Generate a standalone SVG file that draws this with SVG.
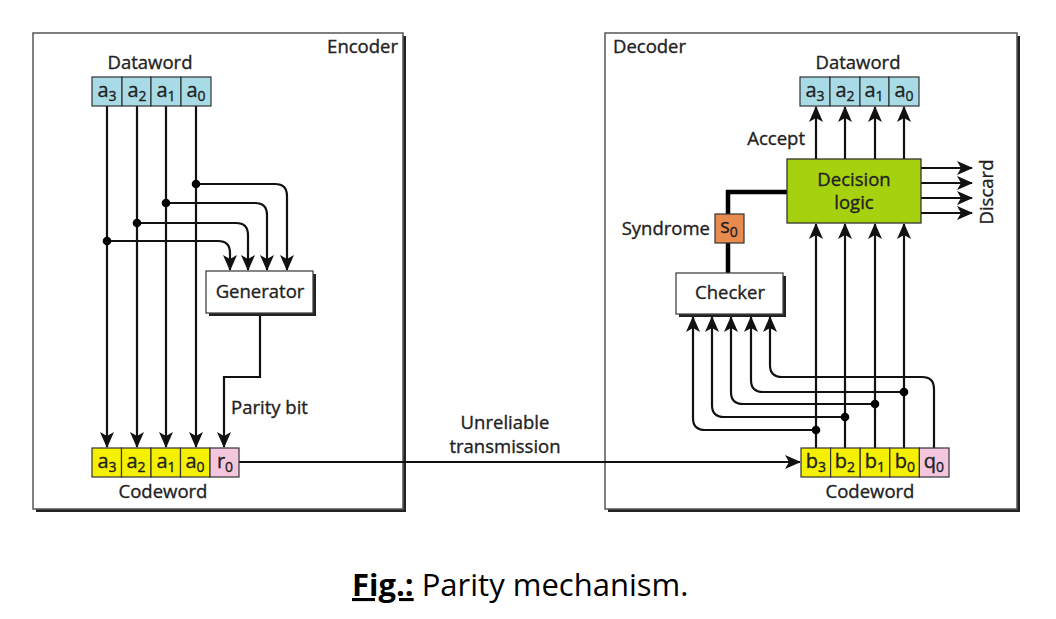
<svg xmlns="http://www.w3.org/2000/svg" width="1056" height="619" viewBox="0 0 1056 619">
<defs>
<marker id="ah" markerUnits="userSpaceOnUse" markerWidth="16" markerHeight="14" viewBox="0 0 16 14" refX="15" refY="7" orient="auto">
<path d="M0,0 L16,7 L0,14 L4,7 Z" fill="#111"/>
</marker>
<style>
.frame{fill:#fff;stroke:#555;stroke-width:1.5}
.shadow{fill:#222}
.box{fill:#fff;stroke:#444;stroke-width:1.3}
.t{font-family:"Open Sans","Noto Sans",sans-serif;font-size:18.5px;fill:#222;stroke:#222;stroke-width:0.35}
.c{font-family:"Open Sans","Noto Sans",sans-serif;font-size:18.5px;fill:#222;stroke:#222;stroke-width:0.35;text-anchor:middle}
.cell{font-family:"Open Sans","Noto Sans",sans-serif;font-size:20px;fill:#222;stroke:#222;stroke-width:0.35;text-anchor:middle}
.sub{font-size:14px}
.blue{fill:#a9dbe6;stroke:#333;stroke-width:1.2}
.yel{fill:#f4f000;stroke:#333;stroke-width:1.2}
.pink{fill:#f3c6de;stroke:#333;stroke-width:1.2}
.wa{fill:none;stroke:#111;stroke-width:2.2;marker-end:url(#ah)}
.thick{fill:none;stroke:#000;stroke-width:4.5}
.dot{fill:#000}
</style>
</defs>

<g id="encoder-frame">
<rect class="shadow" x="36" y="36" width="370" height="476"/>
<rect class="frame" x="33" y="33" width="370" height="476"/>
<text class="t" x="398" y="53" text-anchor="end">Encoder</text>
</g>

<g id="decoder-frame">
<rect class="shadow" x="608" y="36" width="412" height="476"/>
<rect class="frame" x="605" y="33" width="412" height="476"/>
<text class="t" x="613" y="53">Decoder</text>
</g>

<g id="connectors">
<path class="wa" d="M107,106 V447"/>
<path class="wa" d="M137,106 V447"/>
<path class="wa" d="M166,106 V447"/>
<path class="wa" d="M196,106 V447"/>
<path class="wa" d="M196,184 H275 Q287,184 287,196 V270"/>
<path class="wa" d="M166,203 H255 Q267,203 267,215 V270"/>
<path class="wa" d="M137,223 H236 Q248,223 248,235 V270"/>
<path class="wa" d="M107,241 H218 Q230,241 230,253 V270"/>
<circle class="dot" cx="196" cy="184" r="4.3"/>
<circle class="dot" cx="166" cy="203" r="4.3"/>
<circle class="dot" cx="137" cy="223" r="4.3"/>
<circle class="dot" cx="107" cy="241" r="4.3"/>
<path class="wa" d="M260,314 V377 H224 V447"/>
<path class="wa" d="M239,462 H800"/>
<path class="wa" d="M816,448 V224"/>
<path class="wa" d="M845,448 V224"/>
<path class="wa" d="M875,448 V224"/>
<path class="wa" d="M904,448 V224"/>
<path class="wa" d="M816,159 V107"/>
<path class="wa" d="M845,159 V107"/>
<path class="wa" d="M875,159 V107"/>
<path class="wa" d="M904,159 V107"/>
<path class="wa" d="M921,168 H972"/>
<path class="wa" d="M921,183 H972"/>
<path class="wa" d="M921,198 H972"/>
<path class="wa" d="M921,213 H972"/>
<path class="wa" d="M816,430 H705 Q693,430 693,418 V317"/>
<path class="wa" d="M845,417 H724 Q712,417 712,405 V317"/>
<path class="wa" d="M875,404 H743 Q731,404 731,392 V317"/>
<path class="wa" d="M904,392 H763 Q751,392 751,380 V317"/>
<path class="wa" d="M934,448 V389 Q934,377 922,377 H782 Q770,377 770,365 V317"/>
<circle class="dot" cx="816" cy="430" r="4.3"/>
<circle class="dot" cx="845" cy="417" r="4.3"/>
<circle class="dot" cx="875" cy="404" r="4.3"/>
<circle class="dot" cx="904" cy="392" r="4.3"/>
<path class="thick" d="M787,192 H728 V214"/>
<path class="thick" d="M728,243 V273"/>
</g>

<g id="enc-dataword">
<text class="c" x="150" y="69">Dataword</text>
<rect class="blue" x="92" y="77" width="30" height="29"/>
<rect class="blue" x="122" y="77" width="29" height="29"/>
<rect class="blue" x="151" y="77" width="30" height="29"/>
<rect class="blue" x="181" y="77" width="30" height="29"/>
<text class="cell" x="107" y="97">a<tspan class="sub" dy="4">3</tspan></text>
<text class="cell" x="137" y="97">a<tspan class="sub" dy="4">2</tspan></text>
<text class="cell" x="166" y="97">a<tspan class="sub" dy="4">1</tspan></text>
<text class="cell" x="196" y="97">a<tspan class="sub" dy="4">0</tspan></text>
</g>

<g id="generator">
<rect class="shadow" x="209" y="274" width="107" height="42"/>
<rect class="box" x="206" y="271" width="107" height="42"/>
<text class="c" x="260" y="298">Generator</text>
</g>

<g id="parity-label"><text class="t" x="231" y="414">Parity bit</text></g>

<g id="enc-codeword">
<rect class="yel" x="92" y="448" width="29.5" height="29"/>
<rect class="yel" x="121.5" y="448" width="29.5" height="29"/>
<rect class="yel" x="151" y="448" width="29.5" height="29"/>
<rect class="yel" x="180.5" y="448" width="29.5" height="29"/>
<rect class="pink" x="210" y="448" width="29" height="29"/>
<text class="cell" x="107" y="468">a<tspan class="sub" dy="4">3</tspan></text>
<text class="cell" x="136" y="468">a<tspan class="sub" dy="4">2</tspan></text>
<text class="cell" x="166" y="468">a<tspan class="sub" dy="4">1</tspan></text>
<text class="cell" x="195" y="468">a<tspan class="sub" dy="4">0</tspan></text>
<text class="cell" x="225" y="468">r<tspan class="sub" dy="4">0</tspan></text>
<text class="c" x="163" y="498">Codeword</text>
</g>

<g id="transmission-label">
<text class="c" x="505" y="429">Unreliable</text>
<text class="c" x="505" y="453">transmission</text>
</g>

<g id="dec-dataword">
<text class="c" x="858" y="69">Dataword</text>
<rect class="blue" x="800" y="77" width="30" height="29"/>
<rect class="blue" x="830" y="77" width="30" height="29"/>
<rect class="blue" x="860" y="77" width="29" height="29"/>
<rect class="blue" x="889" y="77" width="30" height="29"/>
<text class="cell" x="815" y="97">a<tspan class="sub" dy="4">3</tspan></text>
<text class="cell" x="845" y="97">a<tspan class="sub" dy="4">2</tspan></text>
<text class="cell" x="874" y="97">a<tspan class="sub" dy="4">1</tspan></text>
<text class="cell" x="904" y="97">a<tspan class="sub" dy="4">0</tspan></text>
</g>

<g id="accept-label"><text class="t" x="805" y="145" text-anchor="end">Accept</text></g>

<g id="decision-logic">
<rect x="787" y="159" width="134" height="64" fill="#a6d10e" stroke="#333" stroke-width="1.3"/>
<text class="c" x="854" y="186">Decision</text>
<text class="c" x="854" y="209">logic</text>
</g>

<g id="discard-label"><text class="t" transform="translate(993,192) rotate(-90)" text-anchor="middle">Discard</text></g>

<g id="syndrome">
<text class="t" x="710" y="235" text-anchor="end">Syndrome</text>
<rect x="715" y="214" width="29" height="29" fill="#e98a4f" stroke="#333" stroke-width="1.2"/>
<text class="cell" x="729" y="233">s<tspan class="sub" dy="4">0</tspan></text>
</g>

<g id="checker">
<rect class="shadow" x="679" y="276" width="107" height="41"/>
<rect class="box" x="676" y="273" width="107" height="41"/>
<text class="c" x="730" y="299">Checker</text>
</g>

<g id="dec-codeword">
<rect class="yel" x="801" y="448" width="29.6" height="29"/>
<rect class="yel" x="830.6" y="448" width="29.6" height="29"/>
<rect class="yel" x="860.2" y="448" width="29.6" height="29"/>
<rect class="yel" x="889.8" y="448" width="29.6" height="29"/>
<rect class="pink" x="919.4" y="448" width="29.6" height="29"/>
<text class="cell" x="816" y="468">b<tspan class="sub" dy="4">3</tspan></text>
<text class="cell" x="845" y="468">b<tspan class="sub" dy="4">2</tspan></text>
<text class="cell" x="875" y="468">b<tspan class="sub" dy="4">1</tspan></text>
<text class="cell" x="905" y="468">b<tspan class="sub" dy="4">0</tspan></text>
<text class="cell" x="934" y="468">q<tspan class="sub" dy="4">0</tspan></text>
<text class="c" x="870" y="498">Codeword</text>
</g>

<g id="caption">
<text x="352" y="596" style="font-family:'Open Sans','Noto Sans',sans-serif;font-size:31px;fill:#000"><tspan font-weight="bold" text-decoration="underline">Fig.:</tspan> Parity mechanism.</text>
</g>
</svg>
